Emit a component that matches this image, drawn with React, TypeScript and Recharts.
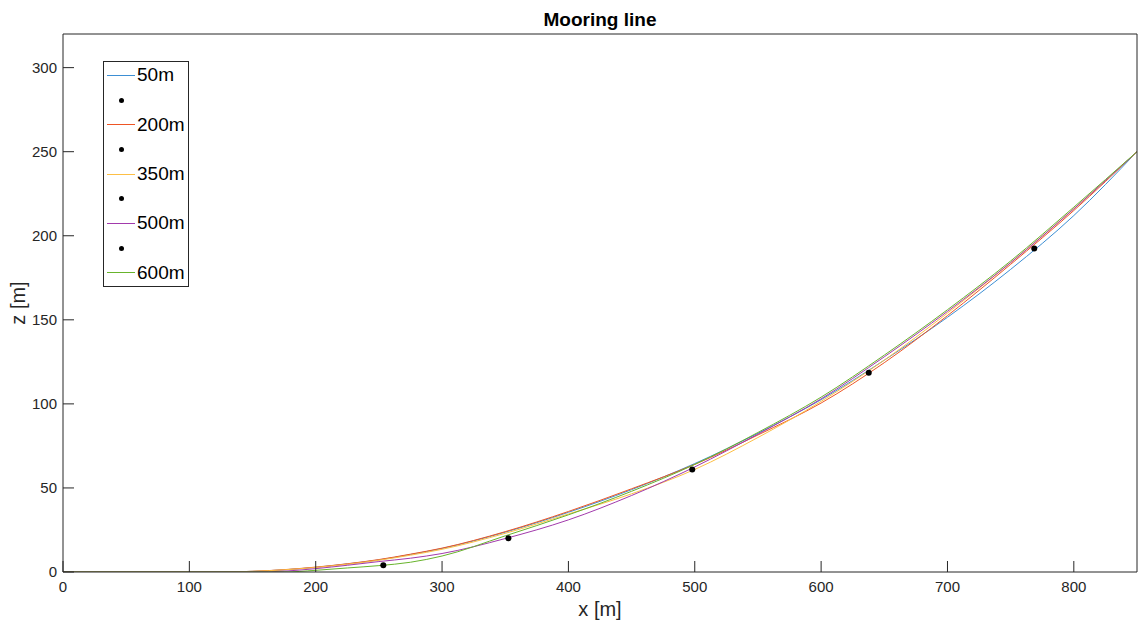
import React from "react"
import {
  ComposedChart,
  Line,
  Scatter,
  XAxis,
  YAxis,
} from "recharts"

// mooring line profiles, x [m] vs z [m]
const xGrid = [0, 50, 100, 125, 150, 175, 200, 225, 250, 275, 300, 350, 400, 450, 500, 550, 600, 650, 700, 750, 800, 850]

const z50 = [0, 0, 0, 0, 0.4, 1.3, 2.8, 4.8, 7.2, 10.4, 14, 23.7, 35.5, 49, 64.5, 82.5, 102.5, 126, 151.5, 180, 212, 250]
const z200 = [0, 0, 0, 0, 0.4, 1.4, 2.9, 4.9, 7.4, 10.6, 14.2, 24, 36, 49.5, 64, 81.5, 100.5, 124.5, 152.5, 183, 215, 250]
const z350 = [0, 0, 0, 0, 0.4, 1.3, 2.7, 4.6, 7, 10, 13.5, 23, 34.5, 46.5, 61, 80, 101.5, 126, 154, 184, 216, 250]
const z500 = [0, 0, 0, 0, 0, 0.5, 2.0, 4.0, 6.2, 8.2, 11, 19.9, 31, 45.5, 62.5, 82, 103, 128, 155, 184, 216, 250]
const z600 = [0, 0, 0, 0, 0, 0, 1.0, 2.4, 3.8, 5.8, 9.5, 21.5, 34, 48, 64, 83, 104, 129, 156, 185, 217, 250]

const seriesNames = ["50m", "200m", "350m", "500m", "600m"]
const seriesValues = [z50, z200, z350, z500, z600]
const seriesColors = ["#3d8fd4", "#ee5524", "#fdbf45", "#a23aac", "#68b42c"]

// black markers
const dotX = [253.5, 352.5, 498, 637.7, 768.7]
const dotZ = [4.0, 20.1, 60.9, 118.5, 192.4]

const xTicks = [0, 100, 200, 300, 400, 500, 600, 700, 800]
const yTicks = [0, 50, 100, 150, 200, 250, 300]

const FONT = "'Liberation Sans', Arial, Helvetica, sans-serif"
const AXIS = "#262626"

const lines = seriesNames.map((name, i) => ({
  name,
  color: seriesColors[i],
  data: xGrid.map((x, j) => ({ x, z: seriesValues[i][j] })),
}))

const dots = dotX.map((x, i) => ({ x, z: dotZ[i] }))

const LegendBox = () => (
  <div
    style={{
      position: "absolute",
      left: 103,
      top: 61,
      border: "1px solid #262626",
      background: "#fff",
      padding: "1px 3px 1px 3px",
      fontFamily: FONT,
      fontSize: 19,
      color: "#000",
    }}
  >
    {seriesNames.map((name, i) => (
      <React.Fragment key={name}>
        <div style={{ display: "flex", alignItems: "center", height: 24.7 }}>
          <span style={{ display: "inline-block", width: 28, height: 0, borderTop: `1px solid ${seriesColors[i]}`, marginRight: 2 }} />
          <span>{name}</span>
        </div>
        {i < seriesNames.length - 1 && (
          <div style={{ display: "flex", alignItems: "center", height: 24.7 }}>
            <span style={{ display: "inline-block", width: 5, height: 5, borderRadius: 3, background: "#000", marginLeft: 12 }} />
          </div>
        )}
      </React.Fragment>
    ))}
  </div>
)

export default function App() {
  const tickStyle = { fontSize: 15, fill: AXIS, fontFamily: FONT }
  return (
    <div style={{ position: "relative", width: 1142, height: 624, background: "#fff" }}>
      <style>{`body{margin:0}`}</style>
      <ComposedChart width={1142} height={624} margin={{ top: 33, right: 0, left: 0, bottom: 0 }}>
        <XAxis
          xAxisId="b"
          dataKey="x"
          type="number"
          domain={[0, 850]}
          ticks={xTicks}
          height={52}
          allowDataOverflow
          stroke={AXIS}
          tickSize={-11}
          tickMargin={20}
          tick={tickStyle}
        />
        <XAxis
          xAxisId="t"
          orientation="top"
          dataKey="x"
          type="number"
          domain={[0, 850]}
          ticks={xTicks}
          height={1}
          stroke={AXIS}
          tickSize={-11}
          tick={false}
        />
        <YAxis
          yAxisId="l"
          dataKey="z"
          type="number"
          domain={[0, 320]}
          ticks={yTicks}
          width={63}
          allowDataOverflow
          stroke={AXIS}
          tickSize={-11}
          tickMargin={17}
          tick={tickStyle}
        />
        <YAxis
          yAxisId="r"
          orientation="right"
          dataKey="z"
          type="number"
          domain={[0, 320]}
          ticks={yTicks}
          width={5}
          stroke={AXIS}
          tickSize={-11}
          tick={false}
        />
        {lines.map((s) => (
          <Line
            key={s.name}
            xAxisId="b"
            yAxisId="l"
            data={s.data}
            dataKey="z"
            name={s.name}
            type="monotone"
            stroke={s.color}
            strokeWidth={1}
            dot={false}
            activeDot={false}
            isAnimationActive={false}
          />
        ))}
        <Scatter
          xAxisId="b"
          yAxisId="l"
          data={dots}
          dataKey="z"
          fill="#000"
          shape={(p: any) => <circle cx={p.cx} cy={p.cy} r={3} fill="#000" />}
          isAnimationActive={false}
        />
        <text x={600} y={26} textAnchor="middle" fontFamily={FONT} fontSize={19} fontWeight="bold" fill="#000">
          Mooring line
        </text>
        <text x={600} y={616} textAnchor="middle" fontFamily={FONT} fontSize={20} fill={AXIS}>
          x [m]
        </text>
        <text x={25} y={303} textAnchor="middle" fontFamily={FONT} fontSize={20} fill={AXIS} transform="rotate(-90 25 303)">
          z [m]
        </text>
      </ComposedChart>
      <LegendBox />
    </div>
  )
}
